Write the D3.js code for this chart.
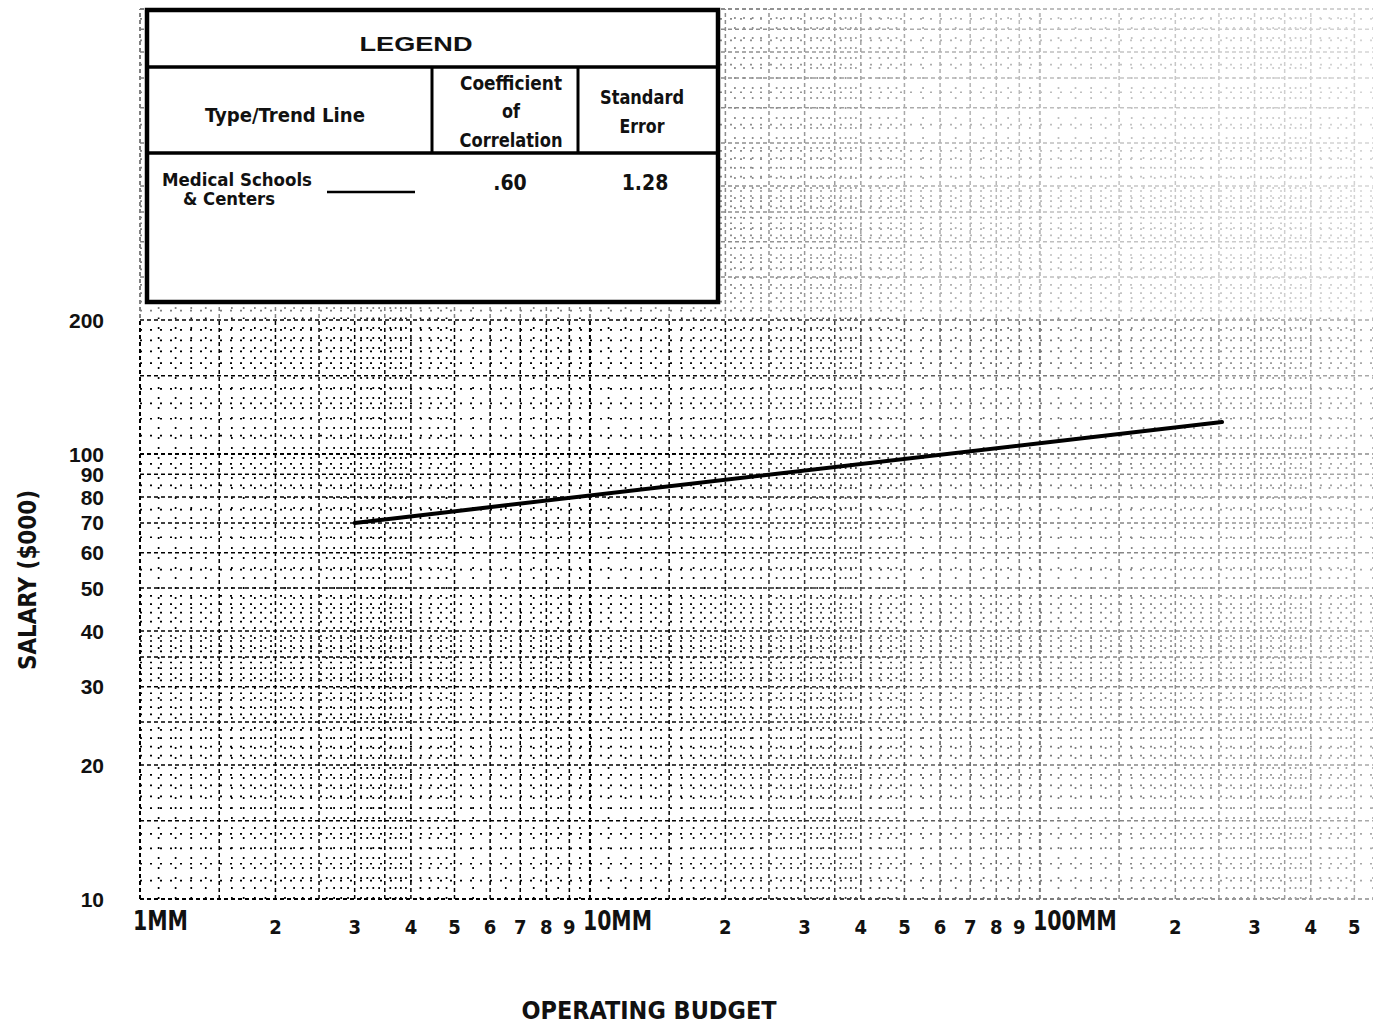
<!DOCTYPE html>
<html>
<head>
<meta charset="utf-8">
<script src="https://cdn.jsdelivr.net/npm/d3@7"></script>
<style>
  body { margin: 0; background: #fff; }
  text { font-family: "Liberation Sans Narrow", "DejaVu Sans Condensed", "Liberation Sans", sans-serif; font-weight: bold; fill: #111; }
</style>
</head>
<body>
<svg id="chart" width="1373" height="1026"></svg>
<script>
// ---- data (budget in $MM, salary in $000) ----
const xTickValues = [1, 2, 3, 4, 5, 6, 7, 8, 9, 10, 20, 30, 40, 50, 60, 70, 80, 90, 100, 200, 300, 400, 500]
const xTickLabels = ["1MM", "2", "3", "4", "5", "6", "7", "8", "9", "10MM", "2", "3", "4", "5", "6", "7", "8", "9", "100MM", "2", "3", "4", "5"]
const yTickValues = [10, 20, 30, 40, 50, 60, 70, 80, 90, 100, 200]
const yTickLabels = ["10", "20", "30", "40", "50", "60", "70", "80", "90", "100", "200"]

// trend line: Medical Schools & Centers
const trendBudget = [3, 254]
const trendSalary = [70, 118]

// legend table
const legendHeaders = [["Type/Trend Line"], ["Coefficient", "of", "Correlation"], ["Standard", "Error"]]
const legendType = ["Medical Schools", "& Centers"]
const legendCorrelation = [".60"]
const legendStdError = ["1.28"]

// log paper rulings inside one decade
const majorSteps = [1, 1.5, 2, 2.5, 3, 3.5, 4, 5, 6, 7, 8, 9]
const minorSteps = [1.1, 1.2, 1.3, 1.4, 1.6, 1.7, 1.8, 1.9, 2.1, 2.2, 2.3, 2.4, 2.6, 2.7, 2.8, 2.9,
                    3.1, 3.2, 3.3, 3.4, 3.6, 3.7, 3.8, 3.9, 4.2, 4.4, 4.6, 4.8, 5.5, 6.5, 7.5, 8.5, 9.5]

const svg = d3.select("#chart")

const x = d3.scaleLog().domain([1, 550]).range([140, 1373])
const y = d3.scaleLog().domain([10, 1000]).range([899, 9])

function rulings(steps, decades, lo, hi) {
  const out = []
  decades.forEach(d => steps.forEach(s => {
    const v = +(s * d).toPrecision(6)
    if (v >= lo && v <= hi) out.push(v)
  }))
  return out
}
const isDecade = d => Math.abs(Math.log10(d) - Math.round(Math.log10(d))) < 1e-6

// fade mask: the scan is dark at left and washes out to the right / top
const defs = svg.append("defs")
const grad = defs.append("linearGradient").attr("id", "fade")
  .attr("gradientUnits", "userSpaceOnUse").attr("x1", 0).attr("x2", 1373).attr("y1", 0).attr("y2", 0)
grad.append("stop").attr("offset", "0.48").attr("stop-color", "#fff")
grad.append("stop").attr("offset", "0.74").attr("stop-color", "#888")
grad.append("stop").attr("offset", "1").attr("stop-color", "#555")
const mask = defs.append("mask").attr("id", "gridMask")
  .attr("maskUnits", "userSpaceOnUse").attr("x", 0).attr("y", 0).attr("width", 1373).attr("height", 1026)
mask.append("rect").attr("width", 1373).attr("height", 1026).attr("fill", "url(#fade)")
mask.append("rect").attr("width", 1373).attr("height", y(200) - 2).attr("fill", "#000").attr("opacity", 0.5)

const grid = svg.append("g").attr("mask", "url(#gridMask)")

const xMinor = rulings(minorSteps, [1, 10, 100], 1, 550)
const xMajor = rulings(majorSteps, [1, 10, 100], 1, 550)
const yMinor = rulings(minorSteps, [10, 100], 10, 1000)
const yMajor = rulings(majorSteps, [10, 100, 1000], 10, 1000)

// minor (dotted) rulings
grid.selectAll(".vminor").data(xMinor).join("line")
  .attr("x1", d => x(d)).attr("x2", d => x(d))
  .attr("y1", y(10)).attr("y2", y(1000))
  .attr("stroke", "#000").attr("stroke-width", 1.7).attr("stroke-dasharray", "2,8")
grid.selectAll(".hminor").data(yMinor).join("line")
  .attr("y1", d => y(d)).attr("y2", d => y(d))
  .attr("x1", x(1)).attr("x2", 1373)
  .attr("stroke", "#000").attr("stroke-width", 1.7).attr("stroke-dasharray", "2,8")

// major (dashed) rulings
grid.selectAll(".vmajor").data(xMajor).join("line")
  .attr("x1", d => x(d)).attr("x2", d => x(d))
  .attr("y1", y(10)).attr("y2", y(1000))
  .attr("stroke", "#000").attr("stroke-width", d => isDecade(d) ? 2 : 1.5)
  .attr("stroke-dasharray", "4,3")
grid.selectAll(".hmajor").data(yMajor).join("line")
  .attr("y1", d => y(d)).attr("y2", d => y(d))
  .attr("x1", x(1)).attr("x2", 1373)
  .attr("stroke", "#000").attr("stroke-width", d => isDecade(d) ? 2 : 1.5)
  .attr("stroke-dasharray", "4,3")

// y tick labels
svg.append("g").selectAll("text").data(yTickValues).join("text")
  .attr("x", 104).attr("y", d => y(d)).attr("dy", "0.36em")
  .attr("text-anchor", "end")
  .style("font-family", "'Liberation Sans', Arial, sans-serif")
  .attr("font-size", 21)
  .text((d, i) => yTickLabels[i])

// x tick labels
const mmWidth = { "1MM": 55, "10MM": 69, "100MM": 84 }
svg.append("g").selectAll("text").data(xTickValues).join("text")
  .each(function (d, i) {
    const lab = xTickLabels[i]
    const t = d3.select(this)
    if (mmWidth[lab]) {
      t.attr("x", x(d) - 7).attr("y", 930).attr("text-anchor", "start")
       .attr("font-size", 27).attr("textLength", mmWidth[lab]).attr("lengthAdjust", "spacingAndGlyphs")
    } else {
      t.attr("x", x(d)).attr("y", 934).attr("text-anchor", "middle").attr("font-size", 20)
    }
    t.text(lab)
  })

// axis titles
svg.append("text")
  .attr("transform", "translate(36,580) rotate(-90)")
  .attr("text-anchor", "middle")
  .attr("font-size", 24)
  .attr("textLength", 180).attr("lengthAdjust", "spacingAndGlyphs")
  .text("SALARY ($000)")

svg.append("text")
  .attr("x", 649).attr("y", 1019)
  .attr("text-anchor", "middle")
  .attr("font-size", 24)
  .attr("textLength", 255).attr("lengthAdjust", "spacingAndGlyphs")
  .text("OPERATING BUDGET")

// trend line
const line = d3.line().x(d => x(d[0])).y(d => y(d[1]))
svg.append("path")
  .datum(d3.zip(trendBudget, trendSalary))
  .attr("d", line)
  .attr("fill", "none").attr("stroke", "#000")
  .attr("stroke-width", 4).attr("stroke-linecap", "round")

// legend
const lg = svg.append("g")
lg.append("rect")
  .attr("x", 147).attr("y", 10).attr("width", 571).attr("height", 292)
  .attr("fill", "#fff").attr("stroke", "#000").attr("stroke-width", 4.5)
lg.append("line").attr("x1", 147).attr("x2", 718).attr("y1", 67).attr("y2", 67)
  .attr("stroke", "#000").attr("stroke-width", 3.5)
lg.append("line").attr("x1", 147).attr("x2", 718).attr("y1", 153).attr("y2", 153)
  .attr("stroke", "#000").attr("stroke-width", 3.5)
lg.selectAll(".col").data([432, 578]).join("line")
  .attr("x1", d => d).attr("x2", d => d).attr("y1", 67).attr("y2", 153)
  .attr("stroke", "#000").attr("stroke-width", 3)

lg.append("text")
  .attr("x", 416).attr("y", 51).attr("text-anchor", "middle")
  .style("font-family", "'Liberation Sans', Arial, sans-serif")
  .attr("font-size", 21)
  .attr("textLength", 113).attr("lengthAdjust", "spacingAndGlyphs")
  .text("LEGEND")

const headerX = [285, 511, 642]
const headerY = [[122], [90, 118, 147], [104, 133]]
const headerW = [[160], [102, 18, 103], [84, 45]]
legendHeaders.forEach((lines, c) => {
  lines.forEach((t, k) => {
    lg.append("text")
      .attr("x", headerX[c]).attr("y", headerY[c][k]).attr("text-anchor", "middle")
      .attr("font-size", 19)
      .attr("textLength", headerW[c][k]).attr("lengthAdjust", "spacingAndGlyphs")
      .text(t)
  })
})

lg.append("text").attr("x", 162).attr("y", 186).attr("font-size", 18)
  .attr("textLength", 150).attr("lengthAdjust", "spacingAndGlyphs")
  .text(legendType[0])
lg.append("text").attr("x", 183).attr("y", 205).attr("font-size", 18)
  .attr("textLength", 92).attr("lengthAdjust", "spacingAndGlyphs")
  .text(legendType[1])
lg.append("line").attr("x1", 327).attr("x2", 415).attr("y1", 192).attr("y2", 192)
  .attr("stroke", "#000").attr("stroke-width", 2.5)
lg.append("text").attr("x", 510).attr("y", 190).attr("text-anchor", "middle").attr("font-size", 21)
  .text(legendCorrelation[0])
lg.append("text").attr("x", 645).attr("y", 190).attr("text-anchor", "middle").attr("font-size", 21)
  .text(legendStdError[0])
</script>
</body>
</html>
